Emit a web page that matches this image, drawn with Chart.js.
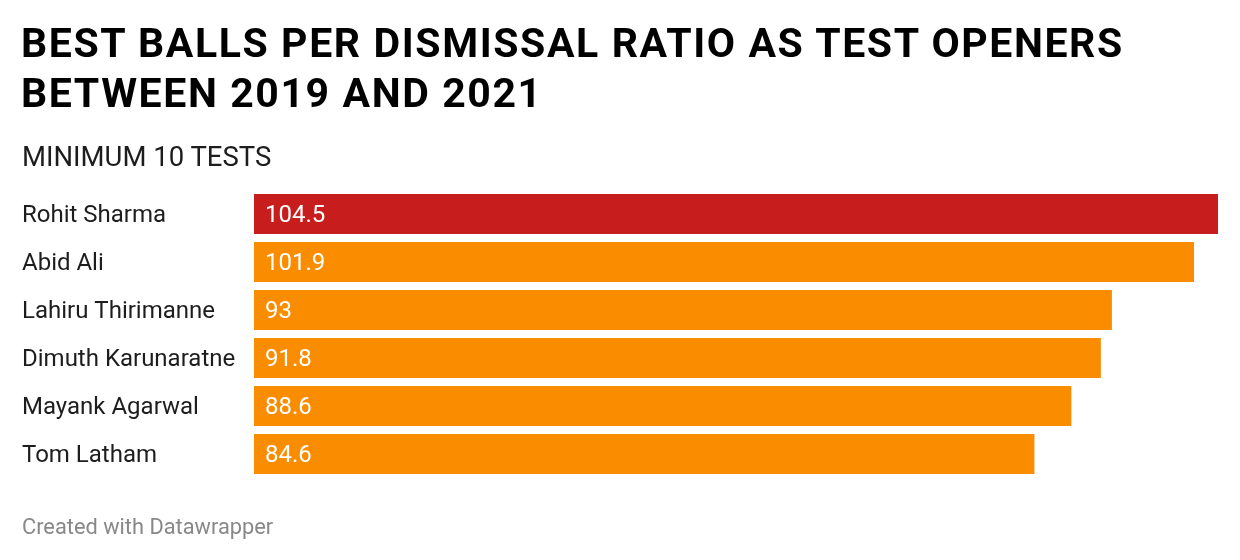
<!DOCTYPE html>
<html>
<head>
<meta charset="utf-8">
<script src="https://cdn.jsdelivr.net/npm/chart.js@4"></script>
<style>
  body { margin: 0; background: #fff; font-family: Roboto, sans-serif; }
  #wrap { position: relative; width: 1240px; height: 560px; }
  #title { position: absolute; left: 21px; top: 18px; font-size: 41px; font-weight: 700; line-height: 50px; color: #000; letter-spacing: 1.6px; white-space: nowrap; }
  #sub { position: absolute; left: 22px; top: 140px; font-size: 27.5px; color: #1d1d1d; }
  #foot { position: absolute; left: 22px; top: 514px; font-size: 21.8px; color: #888; }
  canvas { position: absolute; left: 0; top: 0; }
</style>
</head>
<body>
<div id="wrap">
  <canvas id="chart" width="1240" height="560"></canvas>
  <div id="title">BEST BALLS PER DISMISSAL RATIO AS TEST OPENERS<br>BETWEEN 2019 AND 2021</div>
  <div id="sub">MINIMUM 10 TESTS</div>
  <div id="foot">Created with Datawrapper</div>
</div>
<script>
const players = ['Rohit Sharma', 'Abid Ali', 'Lahiru Thirimanne', 'Dimuth Karunaratne', 'Mayank Agarwal', 'Tom Latham'];
const ballsPerDismissal = [104.5, 101.9, 93, 91.8, 88.6, 84.6];
const barColors = ['#c71e1d', '#fa8c00', '#fa8c00', '#fa8c00', '#fa8c00', '#fa8c00'];

// white value labels inside each bar, near its start
const valueLabels = {
  id: 'valueLabels',
  afterDatasetsDraw(chart) {
    const ctx = chart.ctx;
    const meta = chart.getDatasetMeta(0);
    ctx.save();
    ctx.fillStyle = '#fff';
    ctx.font = '24px Roboto';
    ctx.textBaseline = 'middle';
    meta.data.forEach((bar, i) => {
      ctx.fillText(String(ballsPerDismissal[i]), bar.base + 11, bar.y + 2);
    });
    ctx.restore();
  }
};

new Chart(document.getElementById('chart').getContext('2d'), {
  type: 'bar',
  data: {
    labels: players,
    datasets: [{
      data: ballsPerDismissal,
      backgroundColor: barColors,
      barPercentage: 40 / 48,
      categoryPercentage: 1
    }]
  },
  options: {
    indexAxis: 'y',
    responsive: false,
    animation: false,
    layout: { padding: { left: 22, right: 22, top: 190, bottom: 82 } },
    plugins: { legend: { display: false }, tooltip: { enabled: false } },
    scales: {
      x: { display: false, min: 0, max: 104.5 },
      y: {
        grid: { display: false },
        border: { display: false },
        afterFit(axis) { axis.width = 232; },
        ticks: {
          crossAlign: 'far',
          padding: 0,
          labelOffset: 2,
          color: '#1d1d1d',
          font: { family: 'Roboto', size: 24 }
        }
      }
    }
  },
  plugins: [valueLabels]
});
</script>
</body>
</html>
